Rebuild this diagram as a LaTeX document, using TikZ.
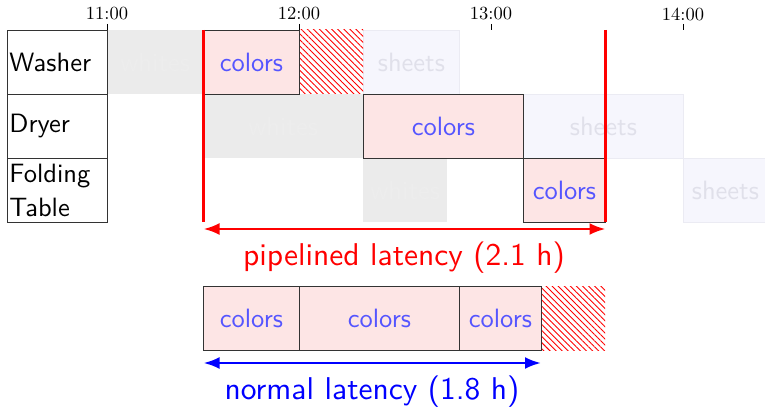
\documentclass[tikz,border=0pt]{standalone}
\usepackage{fontspec}
\setmainfont{lmroman10-regular}[Extension=.otf]
\setsansfont{lmsans10-regular}[Extension=.otf]
\usetikzlibrary{patterns.meta,arrows.meta}
\definecolor{colfill}{HTML}{FDE5E5}
\definecolor{coltext}{HTML}{5555FF}
\definecolor{whfill}{HTML}{EBEBEB}
\definecolor{whtext}{HTML}{EDEDED}
\definecolor{shfill}{HTML}{F6F6FD}
\definecolor{shline}{HTML}{EBEBF3}
\definecolor{shtext}{HTML}{E0E0EA}
\definecolor{boxline}{HTML}{333333}
\tikzset{
  lbl/.style={font=\sffamily\fontsize{26.5}{34}\selectfont},
  stagebox/.style={draw=boxline, line width=0.8pt, anchor=north west, align=left,
    inner sep=2pt, text width=96pt, minimum height=64pt, lbl},
  colorsbox/.style={draw=boxline, line width=0.8pt, fill=colfill, text=coltext, lbl,
    inner sep=0pt},
  whitesbox/.style={fill=whfill, text=whtext, lbl, inner sep=0pt},
  sheetsbox/.style={draw=shline, line width=0.8pt, fill=shfill, text=shtext, lbl, inner sep=0pt},
  hatch/.style={pattern={Lines[angle=-45,distance=4.3pt,line width=0.9pt]}, pattern color=red},
  timelbl/.style={font=\fontsize{18.5}{21}\selectfont, inner sep=0pt},
  latency/.style={font=\sffamily\fontsize{31.5}{36}\selectfont, inner sep=0pt},
  marker/.style={red, line width=2.6pt},
  span/.style={line width=2.6pt, {Latex[length=16pt,width=12pt]}-{Latex[length=16pt,width=12pt]}},
}
\begin{document}
\begin{tikzpicture}[x=1pt,y=-1pt]
\useasboundingbox (0,0) rectangle (765,409);

% time axis
\foreach \t/\x in {11/107,12/299,13/491,14/683}{
  \node[timelbl] (t\t) at (\x,14) {\t:00};
  \draw[line width=0.6pt] (\x,24) -- (\x,30);
}

% the other loads, drawn faintly
\node[whitesbox, minimum width=96pt, minimum height=64pt, anchor=north west] (ww) at (107,30) {whites};
\node[whitesbox, minimum width=160pt, minimum height=64pt, anchor=north west] (dw) at (203,94) {whites};
\node[whitesbox, minimum width=84pt, minimum height=64pt, anchor=north west] (fw) at (363,158) {whites};
\node[sheetsbox, minimum width=96pt, minimum height=64pt, anchor=north west] (ws) at (363,30) {sheets};
\node[sheetsbox, minimum width=160pt, minimum height=64pt, anchor=north west] (ds) at (523,94) {sheets};
\node[sheetsbox, minimum width=84pt, minimum height=64pt, anchor=north west] (fs) at (683,158) {sheets};

% stage labels
\node[stagebox] (washer) at (7,30) {Washer};
\node[stagebox] (dryer) at (7,94) {Dryer};
\node[stagebox] (fold) at (7,158) {Folding\\Table};

% the colors load, pipelined
\fill[hatch] (299,30) rectangle (363,94);
\node[colorsbox, minimum width=96pt, minimum height=64pt, anchor=north west] (wc) at (203,30) {colors};
\node[colorsbox, minimum width=160pt, minimum height=64pt, anchor=north west] (dc) at (363,94) {colors};
\node[colorsbox, minimum width=82pt, minimum height=64pt, anchor=north west] (fc) at (523,158) {colors};

% pipelined latency
\coordinate (pl) at (203.5,30);
\coordinate (pr) at (605.5,30);
\coordinate (plb) at (203.5,222);
\coordinate (prb) at (605.5,222);
\draw[marker] (pl) -- (plb);
\draw[marker] (pr) -- (prb);
\coordinate (pa) at (203.5,229);
\coordinate (pb) at (605.5,229);
\draw[span, red] (pa) -- (pb);
\node[latency, text=red] (plat) at (404,258) {pipelined latency (2.1 h)};

% the colors load, not pipelined
\fill[hatch] (541,286) rectangle (605,350);
\node[colorsbox, minimum width=96pt, minimum height=64pt, anchor=north west] (n1) at (203,286) {colors};
\node[colorsbox, minimum width=160pt, minimum height=64pt, anchor=north west] (n2) at (299,286) {colors};
\node[colorsbox, minimum width=82pt, minimum height=64pt, anchor=north west] (n3) at (459,286) {colors};

% normal latency
\coordinate (na) at (203.5,363);
\coordinate (nb) at (541,363);
\draw[span, blue] (na) -- (nb);
\node[latency, text=blue] (nlat) at (372,392) {normal latency (1.8 h)};
\end{tikzpicture}
\end{document}
